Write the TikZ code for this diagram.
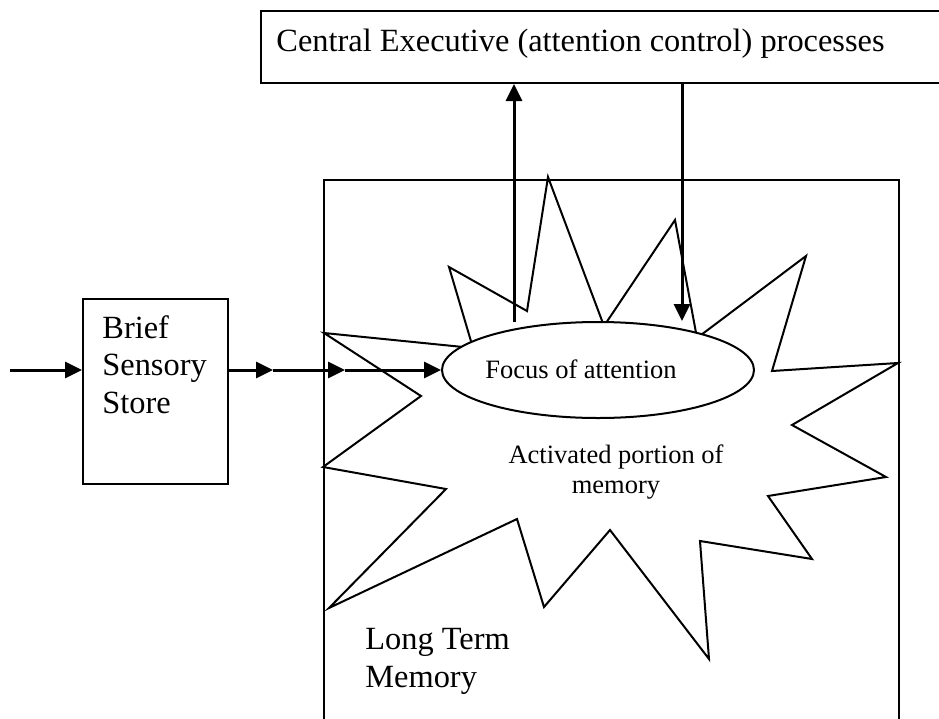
\documentclass[tikz,border=0pt]{standalone}
\usepackage{fontspec}
\setmainfont{Liberation Serif}
\usetikzlibrary{shapes.geometric,arrows.meta}

\begin{document}
\begin{tikzpicture}[x=0.5pt,y=-0.5pt,
  box/.style={draw,line width=1pt,inner sep=0pt},
  flow/.style={line width=1.5pt,-{Triangle[length=8.5pt,width=8pt]}},
  bigtext/.style={font=\fontsize{16.2pt}{18.75pt}\selectfont,inner sep=0pt,align=left},
  smalltext/.style={font=\fontsize{13.25pt}{15pt}\selectfont,inner sep=0pt,align=center}]
\useasboundingbox (0,0) rectangle (939,719);

\node[box,anchor=north west,minimum width=345pt,minimum height=36pt] (exec) at (260,10) {};
\node[bigtext,anchor=base west] (exectext) at (276,51) {Central Executive (attention control) processes};

\node[box,anchor=north west,minimum width=287.5pt,minimum height=300pt] (ltm) at (323,179) {};
\node[bigtext,anchor=base west] (ltmtext) at (365,687) {Long Term\\Memory};

\node[box,anchor=north west,minimum width=72.5pt,minimum height=92.5pt] (brief) at (82,298) {};
\node[bigtext,anchor=base west] (brieftext) at (102,413) {Brief\\Sensory\\Store};

\draw[line width=1pt,line join=miter] (324,333) -- (473,348) -- (449,267) -- (527,311) -- (548,177)
  -- (604,326) -- (675,220) -- (697,338) -- (806,256) -- (772,371) -- (898,363)
  -- (792,425) -- (886,477) -- (768,496) -- (812,559) -- (700,541) -- (709,659)
  -- (610,530) -- (544,607) -- (517,519) -- (329,608) -- (446,489) -- (323,467)
  -- (421,396) -- cycle;

\node[draw,ellipse,fill=white,line width=1pt,minimum width=156pt,minimum height=48pt,inner sep=0pt] (focus) at (598,370) {};
\node[smalltext,anchor=base] (focustext) at (581,378) {Focus of attention};
\node[smalltext,anchor=base] (activetext) at (616,493) {Activated portion of\\memory};

\coordinate (in) at (10,370);
\coordinate (m1) at (273,370);
\coordinate (m2) at (345,370);
\draw[flow] (in) -- (brief.west |- in);
\draw[flow] (brief.east |- in) -- (m1);
\draw[flow] (m1) -- (m2);
\draw[flow] (m2) -- (focus.west);

\coordinate (upfoot) at (514,322);
\coordinate (downtip) at (682,321);
\draw[flow] (upfoot) -- (upfoot |- exec.south);
\draw[flow] (downtip |- exec.south) -- (downtip);
\end{tikzpicture}
\end{document}
